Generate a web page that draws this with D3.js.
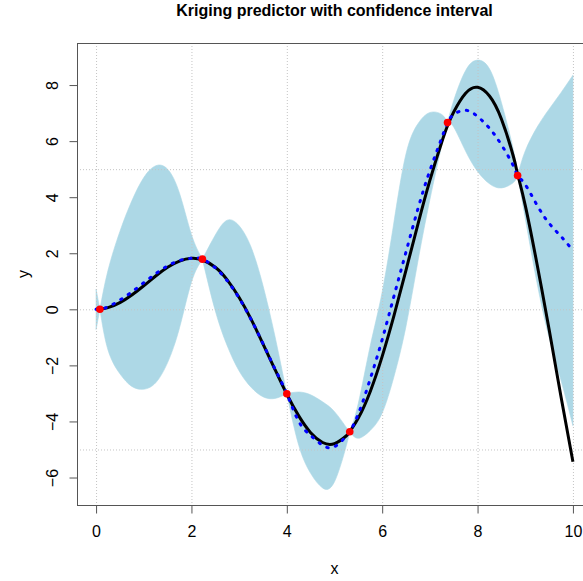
<!DOCTYPE html>
<html>
<head>
<meta charset="utf-8">
<script src="https://cdn.jsdelivr.net/npm/d3@7"></script>
<style>
  html, body { margin: 0; padding: 0; background: #fff; }
  text { font-family: "Liberation Sans", Arial, Helvetica, sans-serif; fill: #000; }
</style>
</head>
<body>
<div id="chart"></div>
<script>
// abscisses (pas de 0.25 + points du plan d'expérience)
const xs = [0, 0.08, 0.25, 0.5, 0.75, 1, 1.25, 1.5, 1.75, 2, 2.23, 2.5, 2.75, 3, 3.25, 3.5, 3.75, 4,
  4.25, 4.5, 4.75, 5, 5.25, 5.32, 5.5, 5.75, 6, 6.25, 6.5, 6.75, 7, 7.25, 7.37, 7.5, 7.75, 8,
  8.25, 8.5, 8.75, 8.84, 9, 9.25, 9.5, 9.75, 10];

// vraie fonction (trait noir)
const trueY = [0, 0.01, 0.06, 0.24, 0.51, 0.84, 1.19, 1.50, 1.72, 1.82, 1.76, 1.50, 1.05, 0.42, -0.35,
  -1.23, -2.14, -3.03, -3.80, -4.40, -4.75, -4.79, -4.51, -4.36, -3.88, -2.93, -1.68, -0.21, 1.40,
  3.04, 4.60, 5.97, 6.55, 7.04, 7.71, 7.92, 7.61, 6.79, 5.46, 4.82, 3.71, 1.59, -0.71, -3.12, -5.44];

// prédicteur de krigeage (pointillés bleus)
const predY = [0, 0, 0.09, 0.33, 0.62, 0.95, 1.27, 1.55, 1.74, 1.82, 1.79, 1.48, 1.02, 0.40, -0.36,
  -1.22, -2.12, -3.01, -4.00, -4.50, -4.85, -4.90, -4.52, -4.37, -3.73, -2.48, -1.08, 0.49, 2.05,
  3.59, 4.95, 6.12, 6.66, 6.95, 7.10, 6.88, 6.46, 5.87, 5.12, 4.77, 4.45, 3.71, 3.07, 2.60, 2.10];

// bornes de l'intervalle de confiance
const upperY = [0.72, 0, 1.39, 2.78, 3.87, 4.70, 5.12, 5.00, 4.14, 2.67, 1.79, 2.65, 3.18, 2.98, 2.22,
  0.85, -0.95, -3.01, -2.95, -3.05, -3.30, -3.65, -4.22, -4.37, -3.35, -1.30, 0.62, 3.15, 5.55,
  6.62, 7.02, 6.95, 6.66, 7.45, 8.52, 8.89, 8.58, 7.38, 5.70, 4.77, 5.65, 6.50, 7.14, 7.73, 8.35];
const lowerY = [-0.72, 0, -1.45, -2.30, -2.75, -2.85, -2.62, -1.90, -0.66, 0.97, 1.79, -0.05, -1.30,
  -2.20, -2.78, -3.12, -3.18, -3.01, -4.85, -5.85, -6.37, -6.15, -4.85, -4.37, -4.60, -4.32, -3.70,
  -2.38, -0.60, 1.72, 3.91, 5.85, 6.66, 6.50, 5.64, 4.92, 4.48, 4.33, 4.52, 4.77, 3.25, 0.92, -1.00,
  -2.53, -4.15];

// observations (points rouges)
const designX = [0.08, 2.23, 4.0, 5.32, 7.37, 8.84];
const designY = [0, 1.79, -3.01, -4.37, 6.66, 4.77];

// graduations et grille
const xTicks = [0, 2, 4, 6, 8, 10];
const yTicks = [-6, -4, -2, 0, 2, 4, 6, 8];
const hGrid = [-5, 0, 5];

const width = 583;
const height = 581;
const margin = {top: 43, right: -9, bottom: 76, left: 77};

const svg = d3.select("#chart").append("svg")
    .attr("width", width)
    .attr("height", height);

// domaines avec 4% de marge comme R
const pad = (lo, hi) => [lo - 0.04 * (hi - lo), hi + 0.04 * (hi - lo)];
const x = d3.scaleLinear()
    .domain(pad(d3.min(xs), d3.max(xs)))
    .range([margin.left, width - margin.right]);
const y = d3.scaleLinear()
    .domain(pad(d3.min(lowerY), d3.max(upperY)))
    .range([height - margin.bottom, margin.top]);

const rows = xs.map((d, i) => ({x: d, t: trueY[i], p: predY[i], lo: lowerY[i], hi: upperY[i]}));

// bande de confiance, découpée aux points d'observation pour garder les pincements
const cuts = [0];
xs.forEach((d, i) => { if (designX.includes(d)) cuts.push(i); });
cuts.push(xs.length - 1);

const area = d3.area()
    .x(d => x(d.x))
    .y0(d => y(d.lo))
    .y1(d => y(d.hi))
    .curve(d3.curveNatural);

const band = svg.append("g");
for (let k = 0; k < cuts.length - 1; k++) {
  band.append("path")
      .attr("d", area(rows.slice(cuts[k], cuts[k + 1] + 1)))
      .attr("fill", "lightblue")
      .attr("stroke", "lightblue")
      .attr("stroke-width", 0.6);
}

// grille pointillée
const grid = svg.append("g")
    .attr("stroke", "#c4c4c4")
    .attr("stroke-width", 1)
    .attr("stroke-dasharray", "1,2");
grid.selectAll(".gx").data(xTicks).enter().append("line")
    .attr("x1", d => x(d) + 0.5).attr("x2", d => x(d) + 0.5)
    .attr("y1", margin.top).attr("y2", height - margin.bottom);
grid.selectAll(".gy").data(hGrid).enter().append("line")
    .attr("x1", margin.left).attr("x2", width - margin.right)
    .attr("y1", d => y(d) + 0.5).attr("y2", d => y(d) + 0.5);

// courbes
const line = key => d3.line()
    .x(d => x(d.x))
    .y(d => y(d[key]))
    .curve(d3.curveNatural);

svg.append("path")
    .attr("d", line("t")(rows))
    .attr("fill", "none")
    .attr("stroke", "#000")
    .attr("stroke-width", 3);

svg.append("path")
    .attr("d", line("p")(rows))
    .attr("fill", "none")
    .attr("stroke", "#0000ff")
    .attr("stroke-width", 3)
    .attr("stroke-linecap", "round")
    .attr("stroke-dasharray", "1.5,7.5");

// points observés
svg.selectAll(".pt").data(designX).enter().append("circle")
    .attr("cx", d => x(d))
    .attr("cy", (d, i) => y(designY[i]))
    .attr("r", 3.8)
    .attr("fill", "#ff0000");

// cadre
svg.append("rect")
    .attr("x", margin.left + 0.5)
    .attr("y", margin.top + 0.5)
    .attr("width", width - margin.right - margin.left)
    .attr("height", height - margin.bottom - margin.top)
    .attr("fill", "none")
    .attr("stroke", "#555");

// axe x
const xAxis = svg.append("g")
    .attr("transform", `translate(0,${height - margin.bottom + 0.5})`)
    .call(d3.axisBottom(x).tickValues(xTicks).tickSize(8).tickPadding(12).tickFormat(d3.format("d")));
xAxis.select(".domain").remove();
xAxis.selectAll("line").attr("stroke", "#555");
xAxis.selectAll("text").attr("font-size", 16).attr("font-family", null);

// axe y, étiquettes verticales comme dans R
const yAxis = svg.append("g")
    .attr("transform", `translate(${margin.left + 0.5},0)`)
    .call(d3.axisLeft(y).tickValues(yTicks).tickSize(8).tickFormat(d3.format("d")));
yAxis.select(".domain").remove();
yAxis.selectAll("line").attr("stroke", "#555");
yAxis.selectAll("text")
    .attr("font-size", 16)
    .attr("font-family", null)
    .attr("x", null).attr("dy", null)
    .attr("text-anchor", "middle")
    .attr("transform", "translate(-20,0) rotate(-90)");

// titres
svg.append("text")
    .attr("x", (margin.left + width - margin.right) / 2)
    .attr("y", 16)
    .attr("text-anchor", "middle")
    .attr("font-size", 16)
    .attr("font-weight", "bold")
    .text("Kriging predictor with confidence interval");

svg.append("text")
    .attr("x", (margin.left + width - margin.right) / 2)
    .attr("y", 574)
    .attr("text-anchor", "middle")
    .attr("font-size", 16)
    .text("x");

svg.append("text")
    .attr("transform", `translate(29,${(margin.top + height - margin.bottom) / 2}) rotate(-90)`)
    .attr("text-anchor", "middle")
    .attr("font-size", 16)
    .text("y");
</script>
</body>
</html>
